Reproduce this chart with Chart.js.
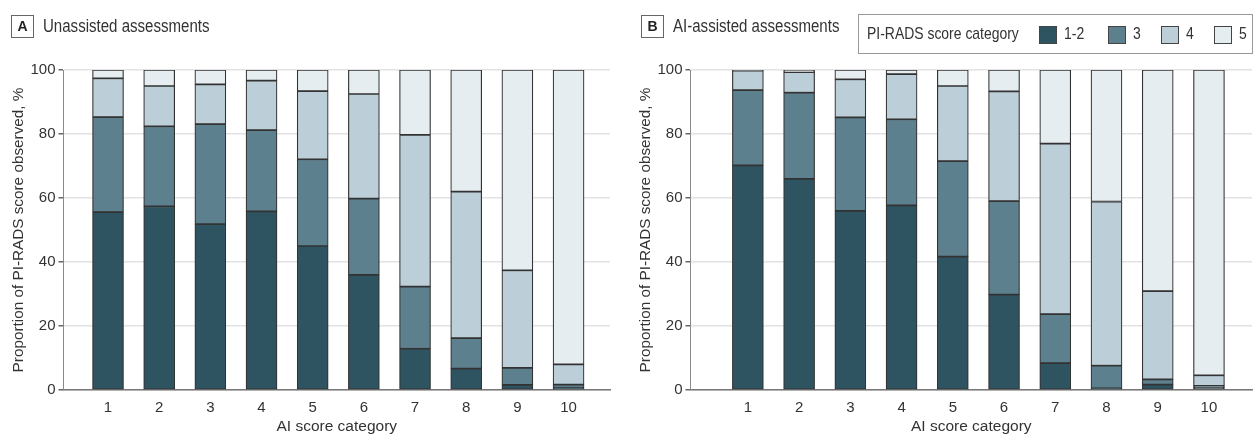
<!DOCTYPE html>
<html>
<head>
<meta charset="utf-8">
<script src="https://cdn.jsdelivr.net/npm/chart.js@4.4.1/dist/chart.umd.min.js"></script>
<style>
  body { margin: 0; background: #fff; font-family: 'Liberation Sans', Arial, sans-serif; color: #333; }
  #wrap { position: relative; width: 1254px; height: 439px; overflow: hidden; }
  .panel { position: absolute; top: 0; width: 627px; height: 439px; }
  .tag { position: absolute; top: 15px; width: 21px; height: 21px; border: 1px solid #666;
         font-weight: bold; font-size: 14px; line-height: 21px; text-align: center; color: #222; }
  /* narrow look of the original type: squeeze horizontally */
  .cond { position: absolute; white-space: nowrap; transform: scaleX(0.82); transform-origin: 0 50%; }
  .ptitle { top: 15px; font-size: 17.5px; line-height: 22px; color: #333; transform: scaleX(0.86); }
  #legend { position: absolute; left: 858px; top: 14px; width: 395px; height: 40px; border: 1px solid #999;
            box-sizing: border-box; font-size: 17px; color: #333; }
  #legend .cond { top: 8px; line-height: 22px; }
  .sw { position: absolute; top: 11px; width: 16px; height: 16px; border: 1px solid #444; }
</style>
</head>
<body>
<div id="wrap">
  <div class="panel" style="left:0"><canvas id="chartA"></canvas></div>
  <div class="panel" style="left:627px"><canvas id="chartB"></canvas></div>

  <div class="tag" style="left:11px">A</div>
  <div class="cond ptitle" style="left:43px">Unassisted assessments</div>
  <div class="tag" style="left:641px">B</div>
  <div class="cond ptitle" style="left:673px">AI-assisted assessments</div>

  <div id="legend"><div class="cond" style="left:8px">PI-RADS score category</div></div>
</div>

<script>
// AI score categories on the x axis
const aiScore = [1, 2, 3, 4, 5, 6, 7, 8, 9, 10];
const yTicks = [0, 20, 40, 60, 80, 100];

// PI-RADS categories (legend) and their fills
const piradsLabels = ['1-2', '3', '4', '5'];
const piradsColors = ['#2e5462', '#5d808e', '#bccfd8', '#e5edf1'];

// A - unassisted, proportion (%) per PI-RADS category
const unassisted12 = [55.6, 57.4, 51.8, 55.8, 45.0, 36.0, 12.9, 6.7, 1.6, 0.6];
const unassisted3  = [29.7, 25.0, 31.3, 25.4, 27.1, 23.8, 19.4, 9.5, 5.3, 1.1];
const unassisted4  = [12.1, 12.6, 12.4, 15.5, 21.3, 32.7, 47.4, 45.8, 30.5, 6.3];
const unassisted5  = [2.6, 5.0, 4.5, 3.3, 6.6, 7.5, 20.3, 38.0, 62.6, 92.0];

// B - AI-assisted
const assisted12 = [70.2, 66.0, 56.0, 57.7, 41.7, 29.8, 8.4, 0.5, 1.7, 0.7];
const assisted3  = [23.5, 26.9, 29.2, 26.9, 29.8, 29.2, 15.3, 7.1, 1.6, 0.6];
const assisted4  = [6.1, 6.4, 11.9, 14.1, 23.5, 34.3, 53.3, 51.3, 27.6, 3.3];
const assisted5  = [0.2, 0.7, 2.9, 1.3, 5.0, 6.7, 23.0, 41.1, 69.1, 95.4];

Chart.defaults.font.family = "'Liberation Sans', Arial, sans-serif";
Chart.defaults.color = '#333';

function makeChart(id, series, xMin, xMax) {
    var datasets = series.map(function(vals, k) {
        return {
            label: piradsLabels[k],
            data: aiScore.map(function(c, i) { return { x: c, y: vals[i] }; }),
            backgroundColor: piradsColors[k],
            borderColor: '#333',
            borderWidth: 1.2,
            borderSkipped: false,
            barThickness: 31
        };
    });

    return new Chart(document.getElementById(id), {
        type: 'bar',
        data: { datasets: datasets },
        options: {
            responsive: true,
            maintainAspectRatio: false,
            animation: false,
            layout: { padding: { top: 70, right: id === 'chartA' ? 17 : 2, left: 0, bottom: 0 } },
            plugins: { legend: { display: false }, tooltip: { enabled: false } },
            scales: {
                x: {
                    type: 'linear',
                    stacked: true,
                    offset: false,
                    min: xMin,
                    max: xMax,
                    afterBuildTicks: function(axis) {
                        axis.ticks = aiScore.map(function(v) { return { value: v }; });
                    },
                    afterFit: function(axis) { axis.height = 49; },
                    grid: { display: false, drawTicks: false },
                    border: { color: '#777', width: 1.5 },
                    ticks: { font: { size: 15 }, padding: 9, maxRotation: 0, autoSkip: false },
                    title: { display: true, text: 'AI score category', font: { size: 15.5 }, padding: { top: 0, bottom: 3 } }
                },
                y: {
                    stacked: true,
                    min: 0,
                    max: 100,
                    afterBuildTicks: function(axis) {
                        axis.ticks = yTicks.map(function(v) { return { value: v }; });
                    },
                    afterFit: function(axis) { axis.width = 63.5; },
                    grid: { color: '#e2e2e2', lineWidth: 1.5, tickColor: '#666', tickLength: 5 },
                    border: { color: '#8a8a8a', width: 1 },
                    ticks: { font: { size: 15 }, padding: 3 },
                    title: { display: true, text: 'Proportion of PI-RADS score observed, %', font: { size: 15.3 }, padding: { top: 10, bottom: 0 } }
                }
            }
        }
    });
}

var chartA = makeChart('chartA', [unassisted12, unassisted3, unassisted4, unassisted5], 0.13, 10.81);
var chartB = makeChart('chartB', [assisted12, assisted3, assisted4, assisted5], -0.12, 10.84);

// legend swatches and labels, positions inside the box
var legend = document.getElementById('legend');
var swLeft = [180, 249, 302, 355];
piradsLabels.forEach(function(lab, k) {
    var sw = document.createElement('div');
    sw.className = 'sw';
    sw.style.left = swLeft[k] + 'px';
    sw.style.background = piradsColors[k];
    legend.appendChild(sw);
    var t = document.createElement('div');
    t.className = 'cond';
    t.style.left = (swLeft[k] + 25) + 'px';
    t.textContent = lab;
    legend.appendChild(t);
});
</script>
</body>
</html>
